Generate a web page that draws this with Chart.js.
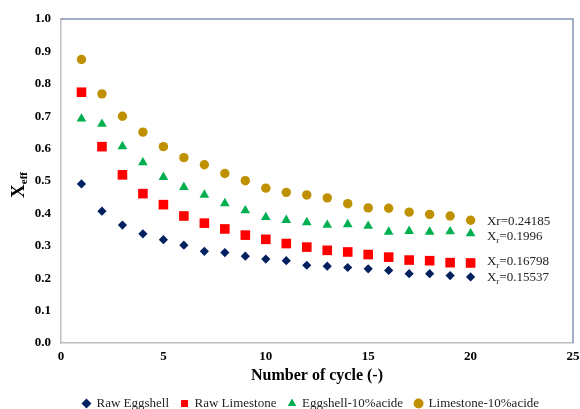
<!DOCTYPE html>
<html>
<head>
<meta charset="utf-8">
<script src="https://cdn.jsdelivr.net/npm/chart.js@4.4.1/dist/chart.umd.min.js"></script>
<style>
html,body{margin:0;padding:0;background:#fff;}
#wrap{width:580px;height:409px;position:relative;}
</style>
</head>
<body>
<div id="wrap"><canvas id="c"></canvas></div>
<script>
const cycles = [1,2,3,4,5,6,7,8,9,10,11,12,13,14,15,16,17,18,19,20];
const rawEggshell = [0.491,0.407,0.364,0.337,0.319,0.302,0.283,0.279,0.268,0.259,0.254,0.240,0.237,0.233,0.229,0.224,0.214,0.214,0.208,0.204];
const rawLimestone = [0.774,0.606,0.519,0.461,0.427,0.392,0.370,0.352,0.333,0.320,0.307,0.296,0.286,0.281,0.273,0.265,0.256,0.254,0.248,0.247];
const eggshellAcid = [0.692,0.676,0.607,0.557,0.512,0.481,0.457,0.431,0.409,0.388,0.379,0.372,0.364,0.366,0.361,0.343,0.345,0.343,0.344,0.338];
const limestoneAcid = [0.875,0.769,0.700,0.651,0.606,0.572,0.550,0.523,0.501,0.478,0.465,0.457,0.448,0.430,0.417,0.416,0.404,0.397,0.392,0.379];
const seriesNames = ['Raw Eggshell','Raw Limestone','Eggshell-10%acide','Limestone-10%acide'];
const xTicks = [0,5,10,15,20,25];
const yTicks = [0,0.1,0.2,0.3,0.4,0.5,0.6,0.7,0.8,0.9,1.0];
const xrValues = ['0.24185','0.1996','0.16798','0.15537'];
const xrSubscript = [false,true,true,true];
const xrAnchorY = [0.374,0.329,0.252,0.203];
const xrAnchorX = 20.8;

const FONT = "'Liberation Serif','Times New Roman',serif";

const toPts = arr => arr.map((v,i)=>({x:cycles[i], y:v}));

const extras = {
  id:'extras',
  afterLayout(chart){
    const l = chart.legend;
    if (l) { l.left += 21; l.right += 21; }
  },
  afterDraw(chart){
    const ctx = chart.ctx, a = chart.chartArea;
    const xs = chart.scales.x, ys = chart.scales.y;
    ctx.save();
    // top & right plot border
    ctx.strokeStyle = '#7f91b2';
    ctx.lineWidth = 1.5;
    ctx.beginPath();
    ctx.moveTo(a.left, a.top);
    ctx.lineTo(a.right, a.top);
    ctx.lineTo(a.right, a.bottom);
    ctx.stroke();
    // annotations
    ctx.fillStyle = '#222';
    ctx.textBaseline = 'middle';
    ctx.textAlign = 'left';
    xrValues.forEach((val,i)=>{
      let px = xs.getPixelForValue(xrAnchorX);
      const py = ys.getPixelForValue(xrAnchorY[i]);
      ctx.font = "13px " + FONT;
      if (!xrSubscript[i]) {
        ctx.fillText('Xr=' + val, px, py);
      } else {
        ctx.fillText('X', px, py);
        px += ctx.measureText('X').width;
        ctx.font = "9px " + FONT;
        ctx.fillText('r', px, py + 4);
        px += ctx.measureText('r').width;
        ctx.font = "13px " + FONT;
        ctx.fillText('=' + val, px, py);
      }
    });
    // y-axis title X_eff
    ctx.translate(18, 185);
    ctx.rotate(-Math.PI/2);
    ctx.fillStyle = '#000';
    ctx.textBaseline = 'alphabetic';
    ctx.font = "bold 19px " + FONT;
    const wX = ctx.measureText('X').width;
    ctx.font = "bold 11px " + FONT;
    const wE = ctx.measureText('eff').width;
    let sx = -(wX + wE)/2;
    ctx.font = "bold 19px " + FONT;
    ctx.fillText('X', sx, 6);
    ctx.font = "bold 11px " + FONT;
    ctx.fillText('eff', sx + wX, 9);
    ctx.restore();
  }
};

new Chart(document.getElementById('c'), {
  type:'scatter',
  data:{
    datasets:[
      {label:seriesNames[0], data:toPts(rawEggshell), pointStyle:'rectRot', radius:4.6, backgroundColor:'#002060', borderColor:'#002060', borderWidth:0},
      {label:seriesNames[1], data:toPts(rawLimestone), pointStyle:'rect', radius:6.8, backgroundColor:'#ff0000', borderColor:'#ff0000', borderWidth:0},
      {label:seriesNames[2], data:toPts(eggshellAcid), pointStyle:'triangle', radius:5.6, backgroundColor:'#00b050', borderColor:'#00b050', borderWidth:0},
      {label:seriesNames[3], data:toPts(limestoneAcid), pointStyle:'circle', radius:4.7, backgroundColor:'#bf9000', borderColor:'#bf9000', borderWidth:0}
    ]
  },
  options:{
    responsive:true,
    maintainAspectRatio:false,
    animation:false,
    layout:{padding:{top:19,right:0,left:0,bottom:-11}},
    plugins:{
      legend:{
        position:'bottom',
        labels:{
          usePointStyle:true,
          boxWidth:7, boxHeight:7,
          padding:12,
          color:'#222',
          font:{family:FONT, size:13}
        }
      },
      tooltip:{enabled:false}
    },
    scales:{
      x:{
        type:'linear', min:0, max:25,
        afterBuildTicks(s){ s.ticks = xTicks.map(v=>({value:v})); },
        ticks:{color:'#000', font:{family:FONT, size:13, weight:'bold'}, padding:6},
        grid:{display:false, drawTicks:false},
        border:{color:'#bfbfbf', width:1.5},
        title:{display:true, text:'Number of cycle (-)', color:'#000', font:{family:FONT, size:16, weight:'bold'}, padding:{top:8,bottom:0}},
        afterFit(s){ s.height = 42; s.paddingRight = 7; s.paddingLeft = 0; }
      },
      y:{
        type:'linear', min:0, max:1,
        afterBuildTicks(s){ s.ticks = yTicks.map(v=>({value:v})); },
        ticks:{color:'#000', font:{family:FONT, size:13, weight:'bold'}, padding:10, callback:v=>Number(v).toFixed(1)},
        grid:{display:false, drawTicks:false},
        border:{color:'#bfbfbf', width:1.5},
        afterFit(s){ s.width = 61; }
      }
    }
  },
  plugins:[extras]
});
</script>
</body>
</html>
